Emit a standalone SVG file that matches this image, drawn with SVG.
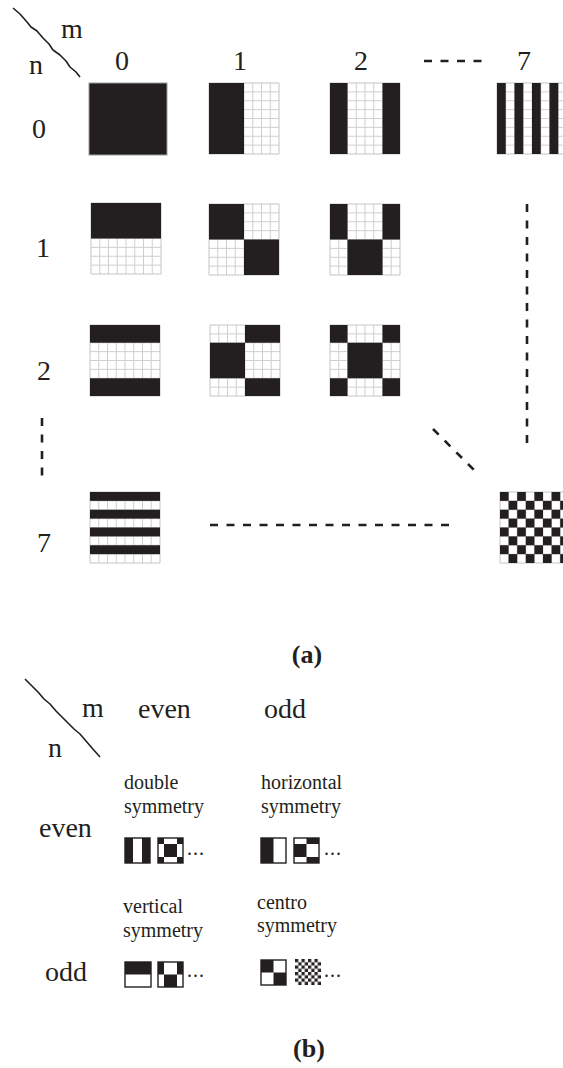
<svg xmlns="http://www.w3.org/2000/svg" xmlns:xlink="http://www.w3.org/1999/xlink" width="563" height="1068" viewBox="0 0 563 1068">
<style>
.k{fill:#231f20}
.t{font-family:"Liberation Serif","Times New Roman",serif;font-size:28px;fill:#231f20}
.s{font-size:20px}
.b{font-family:"Liberation Serif","Times New Roman",serif;font-size:26px;font-weight:bold;fill:#231f20}
.d{stroke:#231f20;stroke-width:2.6;fill:none;stroke-dasharray:8 8.5}
.hand{stroke:#231f20;stroke-width:1.6;fill:none;stroke-linejoin:round}
.ol{fill:none;stroke:#231f20;stroke-width:1.4}
</style>
<defs>
<g id="grid">
<rect width="8" height="8" fill="#fff"/>
<path d="M1 0V8M2 0V8M3 0V8M4 0V8M5 0V8M6 0V8M7 0V8M0 1H8M0 2H8M0 3H8M0 4H8M0 5H8M0 6H8M0 7H8" stroke="#cfcfcf" stroke-width="1" vector-effect="non-scaling-stroke" fill="none"/>
<rect width="8" height="8" fill="none" stroke="#c4c4c4" stroke-width="1" vector-effect="non-scaling-stroke"/>
</g>
<pattern id="chk" patternUnits="userSpaceOnUse" width="2" height="2">
<rect width="1" height="1" fill="#231f20"/>
<rect x="1" y="1" width="1" height="1" fill="#231f20"/>
</pattern>
</defs>

<!-- part (a) header -->
<g id="hdrA">
<path class="hand" d="M13 8 L20 14 L27 22 L31 27 L37 31 L43 38 L49 44 L53 50 L60 55 L66 61 L70 67 L76 72 L80 77"/>
<text class="t" x="61" y="38">m</text>
<text class="t" x="29" y="74">n</text>
</g>
<g id="colHeads">
<text class="t" x="122" y="70" text-anchor="middle">0</text>
<text class="t" x="240" y="70" text-anchor="middle">1</text>
<text class="t" x="361" y="70" text-anchor="middle">2</text>
<text class="t" x="524" y="70" text-anchor="middle">7</text>
</g>
<g id="rowHeads">
<text class="t" x="39" y="138" text-anchor="middle">0</text>
<text class="t" x="43" y="257" text-anchor="middle">1</text>
<text class="t" x="44" y="380" text-anchor="middle">2</text>
<text class="t" x="44" y="552" text-anchor="middle">7</text>
</g>

<!-- blocks -->
<g id="b00"><rect x="89" y="83" width="78" height="72" class="k" stroke="#9a9a9a" stroke-width="1"/></g>
<g id="b01" transform="translate(209,83) scale(8.75,8.875)"><use xlink:href="#grid"/><rect class="k" width="4" height="8"/></g>
<g id="b02" transform="translate(330,83) scale(8.75,8.875)"><use xlink:href="#grid"/><rect class="k" width="2" height="8"/><rect class="k" x="6" width="2" height="8"/></g>
<g id="b07" transform="translate(497,83) scale(8.75,8.875)"><use xlink:href="#grid"/><rect class="k" x="0" width="1" height="8"/><rect class="k" x="2" width="1" height="8"/><rect class="k" x="4" width="1" height="8"/><rect class="k" x="6" width="1" height="8"/></g>
<g id="b10" transform="translate(91,203) scale(8.75,8.875)"><use xlink:href="#grid"/><rect class="k" width="8" height="4"/></g>
<g id="b11" transform="translate(209,204) scale(8.75,8.875)"><use xlink:href="#grid"/><rect class="k" width="4" height="4"/><rect class="k" x="4" y="4" width="4" height="4"/></g>
<g id="b12" transform="translate(330,204) scale(8.75,8.875)"><use xlink:href="#grid"/><rect class="k" width="2" height="4"/><rect class="k" x="6" width="2" height="4"/><rect class="k" x="2" y="4" width="4" height="4"/></g>
<g id="b20" transform="translate(90,325) scale(8.75,8.875)"><use xlink:href="#grid"/><rect class="k" width="8" height="2"/><rect class="k" y="6" width="8" height="2"/></g>
<g id="b21" transform="translate(210,325) scale(8.75,8.875)"><use xlink:href="#grid"/><rect class="k" x="4" width="4" height="2"/><rect class="k" y="2" width="4" height="4"/><rect class="k" x="4" y="6" width="4" height="2"/></g>
<g id="b22" transform="translate(330,325) scale(8.75,8.875)"><use xlink:href="#grid"/><rect class="k" width="2" height="2"/><rect class="k" x="6" width="2" height="2"/><rect class="k" x="2" y="2" width="4" height="4"/><rect class="k" y="6" width="2" height="2"/><rect class="k" x="6" y="6" width="2" height="2"/></g>
<g id="b70" transform="translate(90,492) scale(8.75,8.875)"><use xlink:href="#grid"/><rect class="k" y="0" width="8" height="1"/><rect class="k" y="2" width="8" height="1"/><rect class="k" y="4" width="8" height="1"/><rect class="k" y="6" width="8" height="1"/></g>
<g id="b77" transform="translate(500,492) scale(8.6,8.875)"><use xlink:href="#grid"/><rect width="8" height="8" fill="url(#chk)"/></g>

<!-- connectors (dashed ellipses) -->
<g id="connectors">
<line class="d" x1="424" y1="61" x2="482" y2="61"/>
<line class="d" x1="527" y1="204" x2="527" y2="445"/>
<line class="d" x1="42" y1="418" x2="42" y2="476"/>
<line class="d" x1="433" y1="429" x2="476" y2="472"/>
<line class="d" x1="210" y1="525" x2="453" y2="525"/>
</g>

<text class="b" x="307" y="663" text-anchor="middle">(a)</text>

<!-- part (b) -->
<g id="hdrB">
<path class="hand" d="M25 679 L32 686 L38 692 L44 699 L50 704 L56 711 L62 717 L68 723 L74 729 L80 734 L86 741 L92 748 L100 757"/>
<text class="t" x="82" y="717">m</text>
<text class="t" x="48" y="757">n</text>
<text class="t" x="138" y="718">even</text>
<text class="t" x="264" y="718">odd</text>
<text class="t" x="39" y="837">even</text>
<text class="t" x="45" y="981">odd</text>
</g>

<g id="cellEE">
<text class="t s" x="124" y="789">double</text>
<text class="t s" x="124" y="813">symmetry</text>
<g transform="translate(125,838)"><rect class="k" width="8" height="25"/><rect class="k" x="17" width="8" height="25"/><rect class="ol" width="25" height="25"/></g>
<g transform="translate(158,838)"><rect class="k" width="6" height="6"/><rect class="k" x="19" width="6" height="6"/><rect class="k" y="19" width="6" height="6"/><rect class="k" x="19" y="19" width="6" height="6"/><rect class="k" x="6" y="6" width="13" height="13"/><rect class="ol" width="25" height="25"/></g>
<text class="t s" x="187" y="855" letter-spacing="1">...</text>
</g>

<g id="cellEO">
<text class="t s" x="261" y="789">horizontal</text>
<text class="t s" x="261" y="813">symmetry</text>
<g transform="translate(261,838)"><rect class="k" width="12.5" height="25"/><rect class="ol" width="25" height="25"/></g>
<g transform="translate(294,838)"><rect class="k" x="12.5" width="12.5" height="6"/><rect class="k" y="6" width="12.5" height="13"/><rect class="k" x="12.5" y="19" width="12.5" height="6"/><rect class="ol" width="25" height="25"/></g>
<text class="t s" x="324" y="855" letter-spacing="1">...</text>
</g>

<g id="cellOE">
<text class="t s" x="123" y="913">vertical</text>
<text class="t s" x="123" y="937">symmetry</text>
<g transform="translate(125,962)"><rect class="k" width="26" height="12.5"/><rect class="ol" width="26" height="25"/></g>
<g transform="translate(158,962)"><rect class="k" width="6" height="12.5"/><rect class="k" x="19" width="6" height="12.5"/><rect class="k" x="6" y="12.5" width="13" height="12.5"/><rect class="ol" width="25" height="25"/></g>
<text class="t s" x="187" y="977" letter-spacing="1">...</text>
</g>

<g id="cellOO">
<text class="t s" x="257" y="909">centro</text>
<text class="t s" x="257" y="932">symmetry</text>
<g transform="translate(261,960)"><rect class="k" width="12.5" height="12.5"/><rect class="k" x="12.5" y="12.5" width="12.5" height="12.5"/><rect class="ol" width="25" height="25"/></g>
<g transform="translate(295,959) scale(3.25,3.25)"><rect width="8" height="8" fill="url(#chk)"/></g>
<text class="t s" x="324" y="977" letter-spacing="1">...</text>
</g>

<text class="b" x="309" y="1057" text-anchor="middle">(b)</text>
</svg>
